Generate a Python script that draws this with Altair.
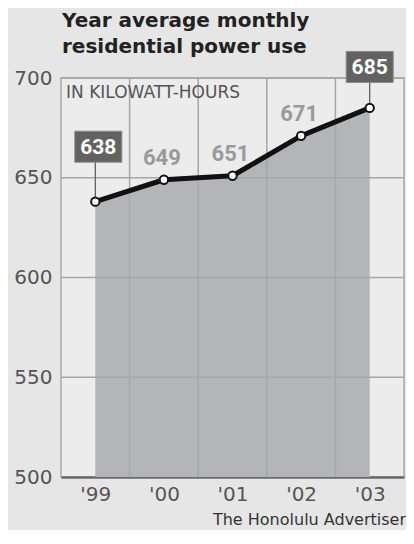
import json
import altair as alt
import pandas as pd

years = ["'99", "'00", "'01", "'02", "'03"]
usage = [638, 649, 651, 671, 685]
boxed = [True, False, False, False, True]
y_ticks = [500, 550, 600, 650, 700]
title_lines = ["Year average monthly", "residential power use"]
unit_label = "IN KILOWATT-HOURS"
source_text = "The Honolulu Advertiser"

W, H = 343, 399
FONT = "DejaVu Sans"
NUMFONT = "Roboto"

df = pd.DataFrame({"i": list(range(len(years))), "year": years, "kwh": usage, "boxed": boxed})
grid_v = pd.DataFrame({"b": [i + 0.5 for i in range(len(years) - 1)]})
grid_h = pd.DataFrame({"v": y_ticks[1:]})
title_df = pd.DataFrame({"t": title_lines, "line": list(range(len(title_lines)))})

xscale = alt.Scale(domain=[-0.5, len(years) - 0.5], nice=False, zero=False)
yscale = alt.Scale(domain=[y_ticks[0], y_ticks[-1]], nice=False, zero=False)

x_enc = alt.X("i:Q", scale=xscale, title=None,
              axis=alt.Axis(values=list(range(len(years))),
                            labelExpr=f"{json.dumps(years)}[datum.value]",
                            grid=False, ticks=False, domain=True,
                            domainColor="#6a6a6a", domainWidth=2.5,
                            labelPadding=7, labelFontSize=20, labelFont=FONT,
                            labelColor="#555555"))
y_enc = alt.Y("kwh:Q", scale=yscale, title=None,
              axis=alt.Axis(values=y_ticks, grid=False, ticks=False, domain=False,
                            labelPadding=9, labelFontSize=20, labelFont=FONT,
                            labelColor="#555555"))

base = alt.Chart(df)

area = base.mark_area(color="#b4b5b9").encode(x=x_enc, y=y_enc, y2=alt.datum(y_ticks[0]))

vrules = alt.Chart(grid_v).mark_rule(color="#a6a6a6", strokeWidth=1.5).encode(
    x=alt.X("b:Q", scale=xscale))
hrules = alt.Chart(grid_h).mark_rule(color="#a6a6a6", strokeWidth=1.5).encode(
    y=alt.Y("v:Q", scale=yscale))

line = base.mark_line(color="#111111", strokeWidth=5, strokeCap="round",
                      strokeJoin="round").encode(x="i:Q", y="kwh:Q")

last = len(years) - 1
conn_lo = base.transform_filter("datum.boxed && datum.i == 0").mark_rule(
    color="#555555", strokeWidth=1.2, y2Offset=-40).encode(x="i:Q", y="kwh:Q", y2="kwh:Q")
conn_hi = base.transform_filter(f"datum.boxed && datum.i == {last}").mark_rule(
    color="#555555", strokeWidth=1.2, y2Offset=-28).encode(x="i:Q", y="kwh:Q", y2="kwh:Q")

pts = base.mark_point(filled=True, fill="white", stroke="#111111", strokeWidth=2,
                      size=70, opacity=1).encode(x="i:Q", y="kwh:Q")

box_shape = "M-1,-0.66L1,-0.66L1,0.66L-1,0.66Z"
box_lo = base.transform_filter("datum.boxed && datum.i == 0").mark_point(
    shape=box_shape, size=47 * 47, filled=True, fill="#626262", opacity=1,
    stroke="#8a8a8a", strokeWidth=1, yOffset=-55, xOffset=3).encode(x="i:Q", y="kwh:Q")
box_hi = base.transform_filter(f"datum.boxed && datum.i == {last}").mark_point(
    shape=box_shape, size=47 * 47, filled=True, fill="#626262", opacity=1,
    stroke="#8a8a8a", strokeWidth=1, yOffset=-41).encode(x="i:Q", y="kwh:Q")

txt_lo = base.transform_filter("datum.boxed && datum.i == 0").mark_text(
    font=NUMFONT, fontSize=21, fontWeight="bold", color="white", yOffset=-54, xOffset=3,
    baseline="middle").encode(x="i:Q", y="kwh:Q", text="kwh:Q")
txt_hi = base.transform_filter(f"datum.boxed && datum.i == {last}").mark_text(
    font=NUMFONT, fontSize=21, fontWeight="bold", color="white", yOffset=-40,
    baseline="middle").encode(x="i:Q", y="kwh:Q", text="kwh:Q")
txt_plain = base.transform_filter("!datum.boxed").mark_text(
    font=NUMFONT, fontSize=22, fontWeight="bold", color="#9a9a9a", yOffset=-22, xOffset=-2,
    baseline="middle").encode(x="i:Q", y="kwh:Q", text="kwh:Q")

unit = alt.Chart(pd.DataFrame({"t": [unit_label]})).mark_text(
    font=FONT, fontSize=17, color="#555555", align="left", baseline="middle").encode(
    x=alt.value(5), y=alt.value(15), text="t:N")

title1 = alt.Chart(title_df).transform_filter("datum.line == 0").mark_text(
    font=FONT, fontSize=20, fontWeight="bold", color="#222222", align="left",
    baseline="alphabetic").encode(x=alt.value(1), y=alt.value(-51), text="t:N")
title2 = alt.Chart(title_df).transform_filter("datum.line == 1").mark_text(
    font=FONT, fontSize=20, fontWeight="bold", color="#222222", align="left",
    baseline="alphabetic").encode(x=alt.value(1), y=alt.value(-25), text="t:N")

src = alt.Chart(pd.DataFrame({"t": [source_text]})).mark_text(
    font=FONT, fontSize=16, color="#333333", align="right", baseline="middle").encode(
    x=alt.value(W + 2), y=alt.value(H + 43), text="t:N")

chart = alt.layer(area, vrules, hrules, unit, line, conn_lo, conn_hi, pts,
                  box_lo, box_hi, txt_lo, txt_hi, txt_plain, src, title1, title2).properties(
    width=W, height=H,
    autosize=alt.AutoSizeParams(type="none"),
    padding={"left": 53, "top": 70, "right": 2, "bottom": 53},
    background="#e6e6e6",
).configure_view(stroke="#a8a8a8", strokeWidth=1.5, fill="#ececec")

chart.save("out.html", embed_options={"renderer": "svg", "actions": False})
